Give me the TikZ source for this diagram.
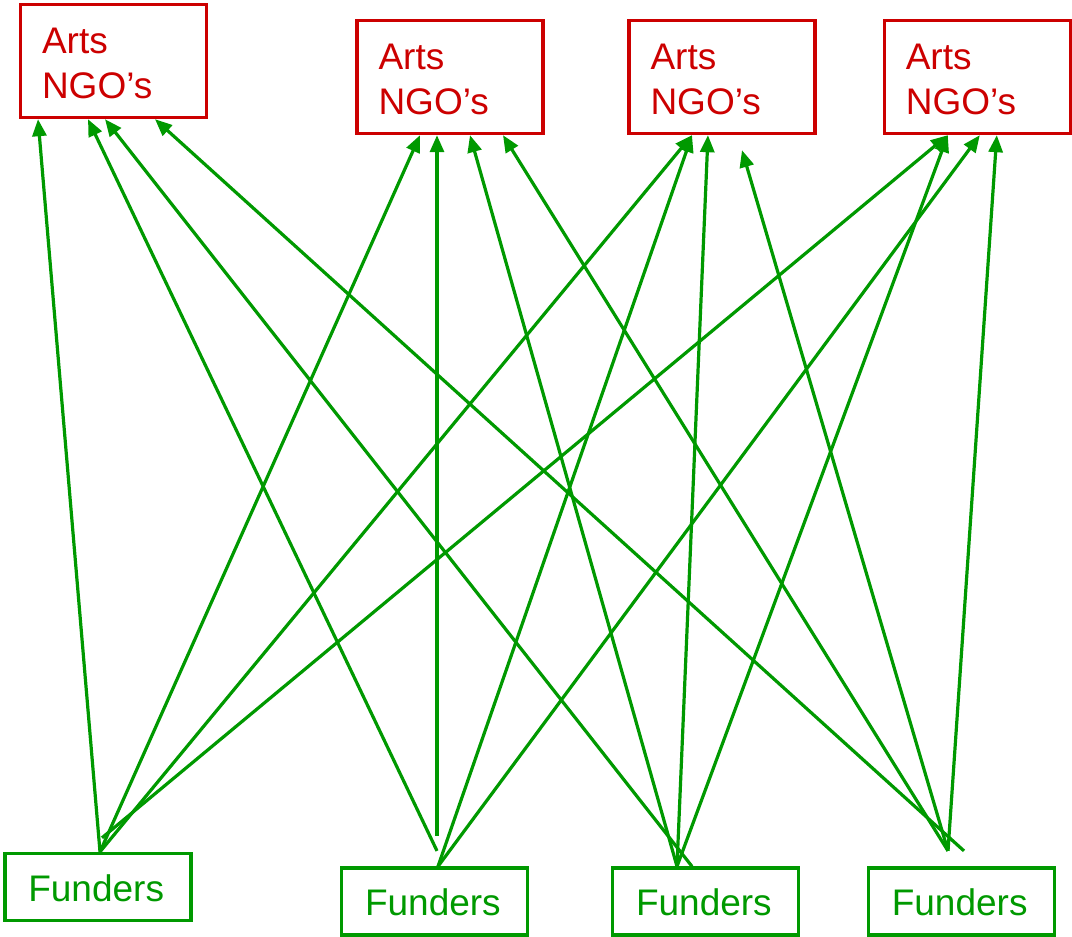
\documentclass[tikz,border=0pt]{standalone}
\usepackage{fontspec}
\setmainfont{Liberation Sans}
\usetikzlibrary{arrows.meta}
\definecolor{ngored}{RGB}{204,0,0}
\definecolor{fgreen}{RGB}{0,153,0}
\tikzset{
  ngo/.style={draw=ngored, line width=3.4pt, minimum width=186pt, minimum height=113pt,
    text width=143pt, inner xsep=21.5pt, inner ysep=0pt, align=left, text=ngored,
    text height=30pt, font=\fontsize{37}{44.5}\selectfont},
  fund/.style={draw=fgreen, line width=3.4pt, minimum width=186pt, minimum height=67pt,
    text width=139pt, inner xsep=23.5pt, inner ysep=0pt, align=left, text=fgreen,
    text height=28.5pt, text depth=0pt, font=\fontsize{37}{44.5}\selectfont},
  arr/.style={draw=fgreen, line width=3.2pt, -{Triangle[length=17pt,width=14pt]}}
}
\begin{document}
\begin{tikzpicture}[x=1pt,y=-1pt]
\useasboundingbox (0,0) rectangle (1072,937);
% Arts NGO boxes
\node[ngo] (a1) at (113.5,61) {Arts\\NGO’s};
\node[ngo] (a2) at (450,77) {Arts\\NGO’s};
\node[ngo] (a3) at (722,77) {Arts\\NGO’s};
\node[ngo] (a4) at (977.3,77) {Arts\\NGO’s};
% Funders boxes
\node[fund] (f1) at (97.8,887) {Funders};
\node[fund] (f2) at (434.5,901.6) {Funders};
\node[fund] (f3) at (705.5,901.6) {Funders};
\node[fund] (f4) at (961.3,901.6) {Funders};
% free ends
\coordinate (f1b) at ([shift={(4.2,-14)}]f1.north);
\coordinate (f2b) at ([shift={(2.5,-15.5)}]f2.north);
\coordinate (f2c) at ([shift={(2.5,-30.5)}]f2.north);
\coordinate (f4a) at ([shift={(-13.3,-15.5)}]f4.north);
\coordinate (f4b) at ([shift={(2.7,-15.5)}]f4.north);
\coordinate (a3x) at ([shift={(20,15)}]a3.south);
% from Funders 1
\draw[arr] ([xshift=2.2pt]f1.north) -- ([xshift=-75.5pt]a1.south);
\draw[arr] ([xshift=2.2pt]f1.north) -- ([xshift=-30pt]a2.south);
\draw[arr] ([xshift=2.2pt]f1.north) -- ([xshift=-30pt]a3.south);
\draw[arr] (f1b) -- ([xshift=-29.5pt]a4.south);
% from Funders 2
\draw[arr] (f2b) -- ([xshift=-25.5pt]a1.south);
\draw[arr] (f2c) -- ([xshift=-13pt]a2.south);
\draw[arr] ([xshift=3.5pt]f2.north) -- ([xshift=-30pt]a3.south);
\draw[arr] ([xshift=3.5pt]f2.north) -- ([xshift=2.5pt]a4.south);
% from Funders 3
\draw[arr] ([xshift=-13.5pt]f3.north) -- ([xshift=-8.5pt]a1.south);
\draw[arr] ([xshift=-28.5pt]f3.north) -- ([xshift=20pt]a2.south);
\draw[arr] ([xshift=-28.5pt]f3.north) -- ([xshift=-14pt]a3.south);
\draw[arr] ([xshift=-28.5pt]f3.north) -- ([xshift=-29.5pt]a4.south);
% from Funders 4
\draw[arr] (f4b) -- ([xshift=41.5pt]a1.south);
\draw[arr] (f4a) -- ([xshift=53pt]a2.south);
\draw[arr] (f4a) -- (a3x);
\draw[arr] (f4a) -- ([xshift=19.5pt]a4.south);
\end{tikzpicture}
\end{document}
